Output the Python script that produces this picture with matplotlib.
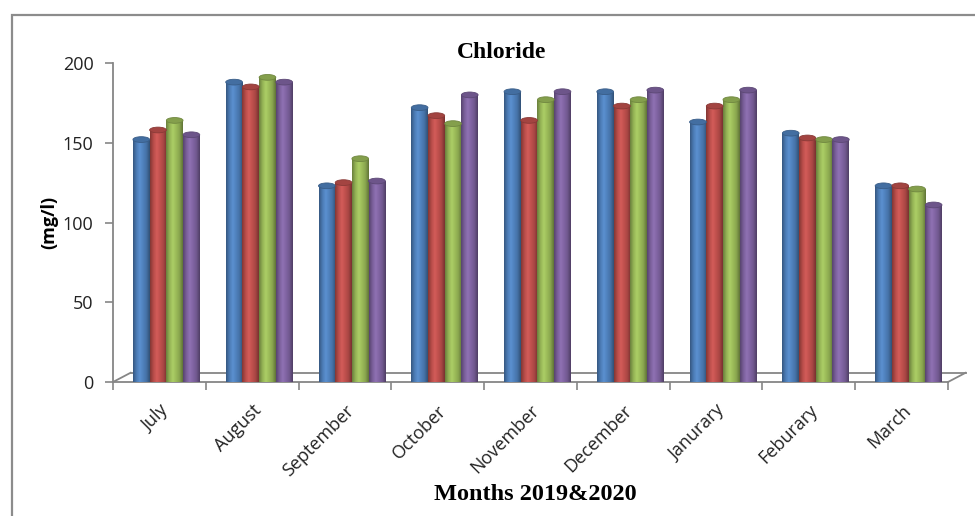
import numpy as np
import matplotlib.pyplot as plt
from matplotlib.colors import LinearSegmentedColormap, to_rgb
from matplotlib.patches import Ellipse, Rectangle

months = ["July", "August", "September", "October", "November",
          "December", "Janurary", "Feburary", "March"]

# four sampling series (mg/l)
s1 = [152, 188, 123, 172, 182, 182, 163, 156, 123]
s2 = [158, 185, 125, 167, 164, 173, 173, 153, 123]
s3 = [164, 191, 140, 162, 177, 177, 177, 152, 121]
s4 = [155, 188, 126, 180, 182, 183, 183, 152, 111]

series = [s1, s2, s3, s4]
colors = ["#4F81BD", "#C0504D", "#9BBB59", "#8064A2"]

plt.rcParams['font.family'] = ['Open Sans', 'DejaVu Sans']

fig = plt.figure(figsize=(9.75, 5.16), dpi=100)
ax = fig.add_axes([113 / 975, 1 - 382 / 516, 835 / 975, 319 / 516])
ax.set_xlim(0, 9)
ax.set_ylim(0, 200)

# frame around the whole chart
fig.patches.append(Rectangle((12 / 975, -0.05), 1.2, 1 - 15 / 516 + 0.05,
                             transform=fig.transFigure, fill=False,
                             edgecolor="#8c8c8c", lw=1.6))

grey = "#868686"
dx, dy = 0.19, 5.8  # floor depth in data units

# floor of the 3D plot
ax.plot([0, 9], [0, 0], color=grey, lw=1.3, clip_on=False, zorder=1)
ax.plot([0, dx], [0, dy], color=grey, lw=1.3, clip_on=False, zorder=1)
ax.plot([dx, 9 + dx], [dy, dy], color=grey, lw=1.3, clip_on=False, zorder=1)
ax.plot([9, 9 + dx], [0, dy], color=grey, lw=1.3, clip_on=False, zorder=1)

bw = 0.18
x0 = np.arange(len(months)) + 0.215
cap = 3.6  # ellipse height of the cylinder caps


def shade(c):
    r = np.array(to_rgb(c))
    light = np.clip(r * 1.06 + 0.03, 0, 1)
    return LinearSegmentedColormap.from_list(
        "cyl", [r * 0.68, r * 0.95, light, r, r * 0.88, r * 0.62])


grad = np.linspace(0, 1, 64).reshape(1, -1)
for i, (vals, c) in enumerate(zip(series, colors)):
    xs = x0 + i * bw
    bars = ax.bar(xs, vals, width=bw, align="edge", color=c,
                  zorder=3, clip_on=False)
    cm = shade(c)
    rgb = np.array(to_rgb(c))
    for b in bars:
        x, w, h = b.get_x(), b.get_width(), b.get_height()
        b.set_facecolor("none")
        b.set_edgecolor("none")
        # rounded bottom of the cylinder
        bot = Ellipse((x + w / 2, 0), w, cap, transform=ax.transData)
        ax.add_patch(bot)
        bot.set_visible(False)
        im = ax.imshow(grad, cmap=cm, aspect="auto", extent=[x, x + w, -cap / 2, 0],
                       zorder=3, interpolation="bilinear")
        im.set_clip_path(bot)
        im = ax.imshow(grad, cmap=cm, aspect="auto", extent=[x, x + w, 0, h],
                       zorder=3, interpolation="bilinear")
        im.set_clip_path(b)
        top = Ellipse((x + w / 2, h), w, cap, facecolor=rgb * 0.85,
                      edgecolor=rgb * 0.72, lw=0.6, zorder=4, clip_on=False)
        ax.add_patch(top)

ax.set_xlim(0, 9)
ax.set_ylim(0, 200)

for s in ["top", "right", "bottom"]:
    ax.spines[s].set_visible(False)
ax.spines["left"].set_color(grey)
ax.spines["left"].set_linewidth(1.3)

ax.set_yticks([0, 50, 100, 150, 200])
ax.tick_params(axis="y", direction="out", length=6, width=1.2, color=grey,
               labelsize=13, pad=8, labelcolor="#222222")

ax.set_xticks(np.arange(10))
ax.set_xticklabels([])
ax.set_xticks(np.arange(9) + 0.5, minor=True)
ax.set_xticklabels(months, minor=True, rotation=45, ha="right",
                   rotation_mode="anchor", fontsize=13, color="#222222")
ax.tick_params(axis="x", which="major", direction="out", length=6, width=1.2,
               color=grey)
ax.tick_params(axis="x", which="minor", length=0, pad=14)

ax.set_ylabel("(mg/l)", fontsize=13, fontweight="bold", labelpad=3)
fig.text(502 / 975, 1 - 53 / 516, "Chloride", fontsize=17, fontweight="bold",
         family="Liberation Serif", ha="center", va="center")
fig.text(535 / 975, 1 - 495 / 516, "Months 2019&2020", fontsize=17.5,
         fontweight="bold", family="Liberation Serif", ha="center", va="center")

fig.savefig("out.png", dpi=100)
